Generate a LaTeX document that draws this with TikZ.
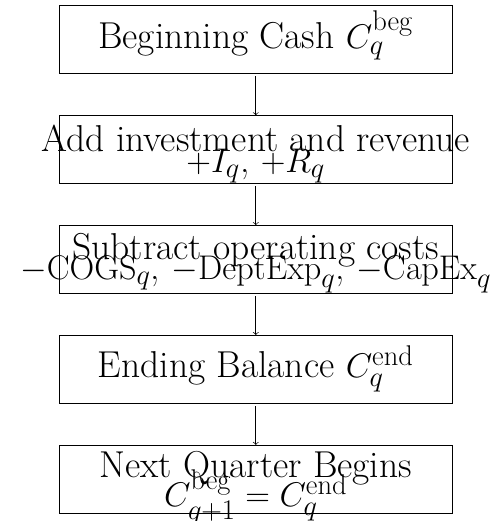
\documentclass[tikz,border=0pt]{standalone}
\usepackage{amsmath,amssymb}
\usetikzlibrary{positioning}
\lineskiplimit=-\maxdimen\relax

\begin{document}
\begin{tikzpicture}[
  stepbox/.style={draw, rectangle, inner sep=0pt, minimum width=238pt, minimum height=41.2pt,
    align=center, font=\fontsize{22.7}{12.5}\selectfont},
  node distance=25pt]
\useasboundingbox (-155.03pt,24.06pt) rectangle (149.21pt,-291.7pt);
\node[stepbox, text height=25.8pt, text depth=15.4pt] (beg) at (0,0) {Beginning Cash $C_q^{\mathrm{beg}}$};
\node[stepbox, text height=34.5pt, text depth=6.7pt, below=of beg] (add) {\makebox[0pt]{Add investment and revenue}\\ $+I_q$, $+R_q$};
\node[stepbox, text height=32.84pt, text depth=8.36pt, below=of add] (sub) {Subtract operating costs\\ \makebox[0pt]{$-\mathrm{COGS}_q$, $-\mathrm{DeptExp}_q$, $-\mathrm{CapEx}_q$}};
\node[stepbox, text height=25.8pt, text depth=15.4pt, below=of sub] (end) {Ending Balance $C_q^{\mathrm{end}}$};
\node[stepbox, text height=37.2pt, text depth=4pt, below=of end] (next) {Next Quarter Begins\\[5.1pt] $C_{q+1}^{\mathrm{beg}} = C_q^{\mathrm{end}}$};
\foreach \a/\b in {beg/add, add/sub, sub/end, end/next}
  \draw[->, shorten <=1.5pt] (\a) -- (\b);
\end{tikzpicture}
\end{document}
